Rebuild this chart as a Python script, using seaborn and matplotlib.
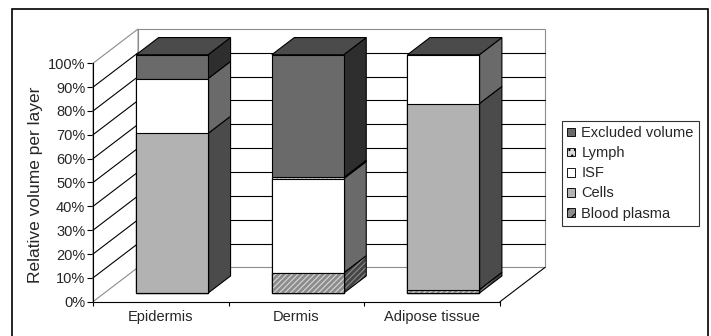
import matplotlib
matplotlib.use("Agg")
import matplotlib.pyplot as plt
from matplotlib.patches import Polygon, Rectangle, Patch
import pandas as pd
import seaborn as sns

# ---- data: relative volume (%) of each compartment per skin layer ----
layers = ["Epidermis", "Dermis", "Adipose tissue"]
blood_plasma = [0.0, 8.5, 1.5]
cells = [67.0, 0.0, 78.0]
isf = [23.0, 39.5, 20.5]
lymph = [0.0, 0.5, 0.0]
excluded = [10.0, 51.5, 0.0]
series_names = ["Blood plasma", "Cells", "ISF", "Lymph", "Excluded volume"]
series_values = [blood_plasma, cells, isf, lymph, excluded]
y_ticks = list(range(0, 101, 10))
y_tick_labels = [f"{v}%" for v in y_ticks]

# ---- styling ----
front_color = {"Blood plasma": "#8c8c8c", "Cells": "#b2b2b2", "ISF": "#ffffff",
               "Lymph": "#dadada", "Excluded volume": "#6a6a6a"}
side_color = {"Blood plasma": "#444444", "Cells": "#4b4b4b", "ISF": "#6a6a6a",
              "Lymph": "#5a5a5a", "Excluded volume": "#2e2e2e"}
hatch_style = {"Blood plasma": "//////", "Lymph": "...."}
hatch_front = {"Blood plasma": "#d8d8d8", "Lymph": "#a0a0a0"}
hatch_side = {"Blood plasma": "#8a8a8a", "Lymph": "#8a8a8a"}
TOP_COLOR = "#4b4b4b"
WALL_EDGE = "#8c8c8c"
BAR_W = 0.53
DX, DY = 0.332, 14.4          # full depth of the 3-D box in data units
D0, D1 = 0.25, 0.75           # bars occupy the middle half of the depth
LW = 0.8

sns.set_style("white")
plt.rcParams["font.family"] = ["Liberation Sans", "DejaVu Sans"]
plt.rcParams["hatch.linewidth"] = 0.8

W, H = 711, 336
fig = plt.figure(figsize=(W / 100, H / 100), dpi=100)
ax = fig.add_axes([93 / W, 1 - 301.7 / H, 407 / W, 238.4 / H])

# long table with stacked extents
rows = []
for i, layer in enumerate(layers):
    bottom = 0.0
    for name, vals in zip(series_names, series_values):
        rows.append({"layer": layer, "series": name, "value": vals[i],
                     "bottom": bottom, "top": bottom + vals[i], "pos": i})
        bottom += vals[i]
df = pd.DataFrame(rows)


def shifted(x, y, d):
    return (x + d * DX, y + d * DY)


# ---- walls, floor and gridlines ----
x_l, x_r = -0.5, 2.5
wall_kw = dict(clip_on=False, zorder=1)
back = Polygon([shifted(x_l, 0, 1), shifted(x_r, 0, 1), shifted(x_r, 100, 1), shifted(x_l, 100, 1)],
               closed=True, facecolor="white", edgecolor=WALL_EDGE, lw=LW, **wall_kw)
ax.add_patch(back)
left = Polygon([(x_l, 0), shifted(x_l, 0, 1), shifted(x_l, 100, 1), (x_l, 100)],
               closed=True, facecolor="white", edgecolor=WALL_EDGE, lw=LW, **wall_kw)
ax.add_patch(left)
for v in y_ticks[1:-1]:
    p0, p1 = shifted(x_l, v, 1), shifted(x_r, v, 1)
    ax.plot([p0[0], p1[0]], [p0[1], p1[1]], color="black", lw=LW, clip_on=False, zorder=2)
for v in y_ticks[1:-1]:
    p1 = shifted(x_l, v, 1)
    ax.plot([x_l, p1[0]], [v, p1[1]], color="black", lw=LW, clip_on=False, zorder=2)
pr = shifted(x_r, 0, 1)
ax.plot([x_r, pr[0]], [0, pr[1]], color="black", lw=LW, clip_on=False, zorder=2)

# ---- front faces: cumulative bars drawn top-down with seaborn ----
def draw_front(name, **kw):
    sub = df[df["series"] == name]
    n0 = len(ax.patches)
    sns.barplot(data=sub, x="layer", y="top", order=layers, width=BAR_W,
                saturation=1, errorbar=None, ax=ax, zorder=5, **kw)
    for p in ax.patches[n0:]:
        p.set_x(p.get_x() + D0 * DX)
        p.set_y(p.get_y() + D0 * DY)
        p.set_clip_on(False)


for name in series_names[::-1]:
    if name in hatch_style:
        draw_front(name, color=front_color[name], edgecolor=hatch_front[name],
                   linewidth=0, hatch=hatch_style[name])
        draw_front(name, color="black", fill=False, linewidth=LW)
    else:
        draw_front(name, color=front_color[name], edgecolor="black", linewidth=LW)

# ---- side and top faces ----
for i, layer in enumerate(layers):
    x0, x1 = i - BAR_W / 2, i + BAR_W / 2
    sub = df[df["layer"] == layer]
    for _, r in sub.iterrows():
        if r["value"] <= 0:
            continue
        pts = [shifted(x1, r["bottom"], D0), shifted(x1, r["bottom"], D1),
               shifted(x1, r["top"], D1), shifted(x1, r["top"], D0)]
        name = r["series"]
        if name in hatch_style:
            ax.add_patch(Polygon(pts, closed=True, facecolor=side_color[name],
                                 edgecolor=hatch_side[name], lw=0, hatch=hatch_style[name],
                                 clip_on=False, zorder=4))
            ax.add_patch(Polygon(pts, closed=True, fill=False, edgecolor="black",
                                 lw=LW, clip_on=False, zorder=4))
        else:
            ax.add_patch(Polygon(pts, closed=True, facecolor=side_color[name],
                                 edgecolor="black", lw=LW, clip_on=False, zorder=4))
    total = sub["value"].sum()
    top_pts = [shifted(x0, total, D0), shifted(x1, total, D0),
               shifted(x1, total, D1), shifted(x0, total, D1)]
    ax.add_patch(Polygon(top_pts, closed=True, facecolor=TOP_COLOR, edgecolor="black",
                         lw=LW, clip_on=False, zorder=4))

# ---- axes ----
ax.set_xlim(x_l, x_r)
ax.set_ylim(0, 100)
ax.set_facecolor("none")
ax.set_xlabel("")
ax.set_ylabel("Relative volume per layer", fontsize=12.5)
ax.yaxis.set_label_coords(-0.122, 0.49)
ax.set_yticks(y_ticks)
ax.set_yticklabels(y_tick_labels, fontsize=10.5)
ax.set_xticks(range(len(layers)))
ax.set_xticklabels(layers, fontsize=10.5)
ax.set_xticks([-0.5, 0.5, 1.5, 2.5], minor=True)
ax.tick_params(axis="y", which="major", left=True, length=4.3, width=LW, pad=1.2, color="black")
ax.tick_params(axis="x", which="major", bottom=True, length=0, pad=6)
ax.tick_params(axis="x", which="minor", bottom=True, length=3, width=LW, color="black")
for s in ["top", "right"]:
    ax.spines[s].set_visible(False)
for s in ["left", "bottom"]:
    ax.spines[s].set_color("black")
    ax.spines[s].set_linewidth(LW)
    ax.spines[s].set_zorder(3)

# ---- legend ----
handles = []
for name in series_names[::-1]:
    if name in hatch_style:
        handles.append(Patch(facecolor=front_color[name], edgecolor="black", lw=LW * 0.8,
                             hatch=hatch_style[name][:3], label=name))
    else:
        handles.append(Patch(facecolor=front_color[name], edgecolor="black", lw=LW * 0.8,
                             label=name))
leg = fig.legend(handles=handles, loc="upper left",
                 bbox_to_anchor=(561.7 / W, 1 - 121 / H), bbox_transform=fig.transFigure,
                 fontsize=10.5, frameon=True, fancybox=False, handlelength=0.55,
                 handleheight=0.55, handletextpad=0.45, labelspacing=0.42,
                 borderpad=0.35, borderaxespad=0)
leg.get_frame().set_edgecolor("black")
leg.get_frame().set_linewidth(LW)

# ---- outer frame ----
fig.add_artist(Rectangle((12.3 / W, -0.02), (708 - 12.3) / W, 1.02 - 9 / H,
                         transform=fig.transFigure, fill=False, edgecolor="black", lw=1.2))

fig.savefig("out.png", dpi=100, facecolor="white")
